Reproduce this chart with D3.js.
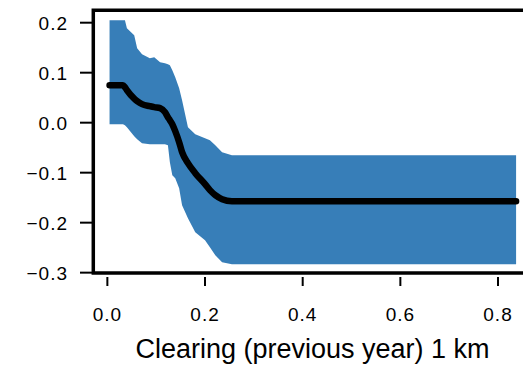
<!DOCTYPE html>
<html>
<head>
<meta charset="utf-8">
<script src="https://cdn.jsdelivr.net/npm/d3@7"></script>
<style>
  body { margin: 0; background: #fff; }
  text { font-family: "Liberation Sans", Arial, Helvetica, sans-serif; fill: #000; }
</style>
</head>
<body>
<div id="chart"></div>
<script>
// values
var xVals = [0.0045, 0.032, 0.036, 0.040, 0.055, 0.061, 0.071, 0.087, 0.096, 0.108, 0.118, 0.124, 0.128,
             0.133, 0.139, 0.147, 0.153, 0.165, 0.180, 0.200, 0.210, 0.221, 0.235, 0.255, 0.837];
var upper = [0.205, 0.205, 0.205, 0.189, 0.175, 0.149, 0.137, 0.129, 0.131, 0.121, 0.119, 0.117, 0.115,
             0.105, 0.091, 0.069, 0.045, -0.009, -0.023, -0.031, -0.035, -0.045, -0.059, -0.065, -0.065];
var lower = [-0.003, -0.003, -0.005, -0.009, -0.027, -0.033, -0.041, -0.043, -0.043, -0.043, -0.043, -0.045, -0.079,
             -0.105, -0.111, -0.131, -0.165, -0.191, -0.219, -0.235, -0.249, -0.265, -0.279, -0.283, -0.283];
var meanVals = [0.075, 0.075, 0.071, 0.065, 0.048, 0.043, 0.037, 0.033, 0.031, 0.029, 0.021, 0.011, 0.005,
                -0.003, -0.017, -0.039, -0.059, -0.081, -0.101, -0.123, -0.135, -0.145, -0.153, -0.157, -0.157];
var xTicks = [0, 0.2, 0.4, 0.6, 0.8];
var yTicks = [0.2, 0.1, 0, -0.1, -0.2, -0.3];
var xTitle = "Clearing (previous year) 1 km";

var width = 523, height = 368;

var svg = d3.select("#chart")
    .append("svg")
    .attr("width", width)
    .attr("height", height);

// plot region extends past the right edge of the image
var x = d3.scaleLinear().domain([-0.0288, 0.870]).range([93.3, 532.2]);
var y = d3.scaleLinear().domain([-0.3025, 0.2248]).range([273.9, 10.3]);

var data = xVals.map(function(d, i) {
  return {x: d, lo: lower[i], hi: upper[i], m: meanVals[i]};
});

// confidence band
svg.append("path")
    .datum(data)
    .attr("fill", "#377eb8")
    .attr("d", d3.area()
      .x(function(d) { return x(d.x); })
      .y0(function(d) { return y(d.lo); })
      .y1(function(d) { return y(d.hi); }));

// mean line
svg.append("path")
    .datum(data)
    .attr("fill", "none")
    .attr("stroke", "#000")
    .attr("stroke-width", 6.5)
    .attr("stroke-linecap", "round")
    .attr("stroke-linejoin", "round")
    .attr("d", d3.line()
      .curve(d3.curveMonotoneX)
      .x(function(d) { return x(d.x); })
      .y(function(d) { return y(d.m); }));

// box (open on the right, cut by the image)
var x0 = x.range()[0], x1 = x.range()[1], y0 = y.range()[1], y1 = y.range()[0] - 1;
svg.append("path")
    .attr("fill", "none")
    .attr("stroke", "#000")
    .attr("stroke-width", 3.5)
    .attr("d", "M" + x1 + "," + y0 + "L" + x0 + "," + y0 + "L" + x0 + "," + y1 + "L" + x1 + "," + y1);

// y axis
var yAxis = svg.append("g");
yAxis.selectAll("line")
    .data(yTicks).enter()
    .append("line")
    .attr("x1", 80).attr("x2", x0)
    .attr("y1", function(d) { return y(d); })
    .attr("y2", function(d) { return y(d); })
    .attr("stroke", "#000")
    .attr("stroke-width", 2);
yAxis.selectAll("text")
    .data(yTicks).enter()
    .append("text")
    .attr("x", 68)
    .attr("y", function(d) { return y(d) + 7; })
    .attr("text-anchor", "end")
    .style("font-size", "19px")
    .style("letter-spacing", "1px")
    .text(function(d) { return d3.format(".1f")(d).replace("-", "\u2212"); });

// x axis
var xAxis = svg.append("g");
xAxis.selectAll("line")
    .data(xTicks).enter()
    .append("line")
    .attr("x1", function(d) { return x(d); })
    .attr("x2", function(d) { return x(d); })
    .attr("y1", 277).attr("y2", 286)
    .attr("stroke", "#000")
    .attr("stroke-width", 2);
xAxis.selectAll("text")
    .data(xTicks).enter()
    .append("text")
    .attr("x", function(d) { return x(d); })
    .attr("y", 321)
    .attr("text-anchor", "middle")
    .style("font-size", "19px")
    .style("letter-spacing", "1px")
    .text(function(d) { return d3.format(".1f")(d); });

svg.append("text")
    .attr("x", 312.5)
    .attr("y", 358)
    .attr("text-anchor", "middle")
    .style("font-size", "27px")
    .text(xTitle);
</script>
</body>
</html>
